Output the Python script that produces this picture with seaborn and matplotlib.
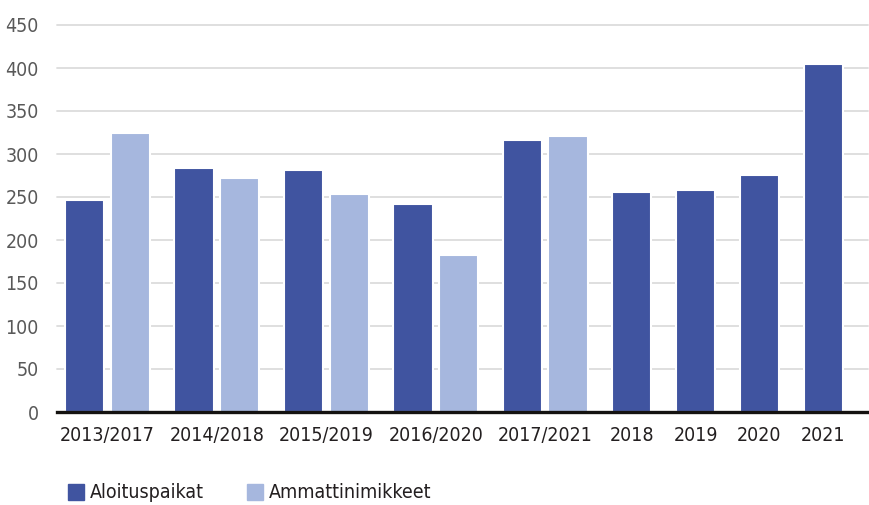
import pandas as pd
import matplotlib
matplotlib.use('Agg')
import matplotlib.pyplot as plt
import seaborn as sns

# Data
kategoriat = ['2013/2017', '2014/2018', '2015/2019', '2016/2020', '2017/2021',
              '2018', '2019', '2020', '2021']
aloituspaikat = [246, 284, 281, 242, 316, 256, 258, 276, 405]
ammattinimikkeet = [325, 272, 254, 183, 321, None, None, None, None]
sarjat = ['Aloituspaikat', 'Ammattinimikkeet']
varit = ['#4054A0', '#A6B7DE']

# Excel-like layout: each bar gets one slot, groups separated by an extra gap
group_gap = 0.4
rows = []
centers = []
cursor = 0.0
for kat, a, b in zip(kategoriat, aloituspaikat, ammattinimikkeet):
    vals = [(s, v) for s, v in zip(sarjat, [a, b]) if v is not None]
    pos = [cursor + 0.5 + i for i in range(len(vals))]
    for (s, v), p in zip(vals, pos):
        rows.append({'kategoria': kat, 'sarja': s, 'arvo': v, 'x': p})
    centers.append(sum(pos) / len(pos))
    cursor += len(vals) + group_gap
df = pd.DataFrame(rows)

sns.set_style('white')
plt.rcParams['font.family'] = ['DejaVu Sans']
plt.rcParams['font.stretch'] = 'condensed'

fig = plt.figure(figsize=(8.69, 5.05), dpi=100)
ax = fig.add_axes([57 / 869, 93 / 505, 811 / 869, 387 / 505])

sns.barplot(data=df, x='x', y='arvo', hue='sarja', hue_order=sarjat,
            palette=varit, saturation=1, native_scale=True, dodge=False, width=0.86,
            edgecolor='white', linewidth=1.5, ax=ax, zorder=3)

ax.set_ylim(0, 450)
ax.set_yticks(range(0, 451, 50))
ax.set_xlim(-0.107, 17.68)
ax.set_xticks(centers, kategoriat)
ax.yaxis.grid(True, color='#DCDCDC', linewidth=1.3, zorder=0)
for gl in ax.get_ygridlines():
    gl.set_clip_on(False)
ax.set_axisbelow(True)
for side in ['top', 'left', 'right']:
    ax.spines[side].set_visible(False)
ax.spines['bottom'].set_color('#141210')
ax.spines['bottom'].set_linewidth(2.4)
ax.spines['bottom'].set_zorder(5)
ax.tick_params(axis='y', length=0, pad=13, labelsize=14, labelcolor='#595959')
ax.tick_params(axis='x', length=0, pad=10, labelsize=14, labelcolor='#231F20')
ax.set_xlabel('')
ax.set_ylabel('')

ax.legend_.remove()
handles = [plt.Rectangle((0, 0), 1, 1, color=c) for c in varit]
fig.legend(handles, sarjat, loc='center left', bbox_to_anchor=(50 / 869, 12 / 505),
           ncol=2, frameon=False, fontsize=14, handlelength=0.85, handleheight=0.85,
           handletextpad=0.3, columnspacing=2.2, labelcolor='#231F20')

fig.savefig('out.png', dpi=100)
